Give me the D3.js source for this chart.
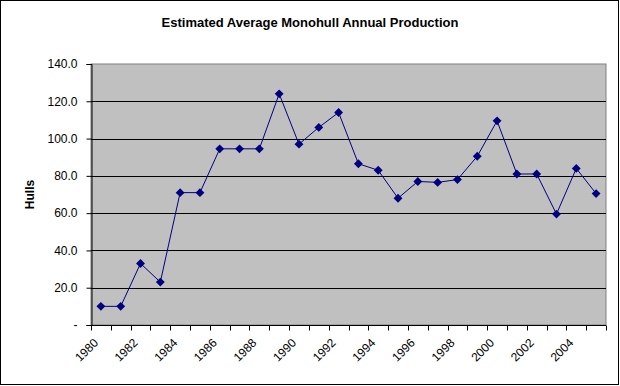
<!DOCTYPE html>
<html>
<head>
<meta charset="utf-8">
<script src="https://cdn.jsdelivr.net/npm/d3@7"></script>
<style>
  body { margin: 0; background: #fff; }
  svg { display: block; font-family: Arial, "Liberation Sans", sans-serif; }
</style>
</head>
<body>
<div id="chart"></div>
<script>
let years = d3.range(1980, 2006)
let hulls = [10, 10, 33, 23, 71, 71, 94.5, 94.5, 94.5, 124, 97, 106, 114,
  86.5, 83, 68, 77, 76.5, 78, 90.5, 109.5, 81, 81, 59.5, 84, 70.5]
let yTicks = [0, 20, 40, 60, 80, 100, 120, 140]
let xLabels = years.filter(function (d) { return d % 2 === 0 && d < 2005 })

let width = 620
let height = 386
let plot = { left: 91, right: 606, top: 64, bottom: 325 }

let svg = d3.select('#chart')
  .append('svg')
  .attr('width', width)
  .attr('height', height)

// outer chart border
svg.append('rect')
  .attr('x', 0.5).attr('y', 0.5)
  .attr('width', width - 2).attr('height', height - 2)
  .style('fill', '#fff')
  .style('stroke', '#000')

let x = d3.scaleBand()
  .domain(years)
  .range([plot.left, plot.right])

let y = d3.scaleLinear()
  .domain([0, 140])
  .range([plot.bottom, plot.top])

// plot area
svg.append('rect')
  .attr('x', plot.left).attr('y', plot.top)
  .attr('width', plot.right - plot.left).attr('height', plot.bottom - plot.top)
  .style('fill', '#c0c0c0')
  .style('stroke', '#808080')

// gridlines
svg.append('g')
  .selectAll('line')
  .data(yTicks.filter(function (d) { return d > 0 && d < 140 }))
  .enter()
  .append('line')
  .attr('x1', plot.left).attr('x2', plot.right)
  .attr('y1', function (d) { return Math.round(y(d)) + 0.5 })
  .attr('y2', function (d) { return Math.round(y(d)) + 0.5 })
  .style('stroke', '#000')

// y axis
let yAxis = svg.append('g')
  .attr('transform', 'translate(' + (plot.left + 0.5) + ',0)')
  .call(d3.axisLeft(y)
    .tickValues(yTicks)
    .tickSize(5)
    .tickPadding(9)
    .tickFormat(function (d) { return d === 0 ? '-    ' : d3.format('.1f')(d) }))
yAxis.selectAll('text')
  .style('font-size', '12px')
  .style('fill', '#000')
yAxis.selectAll('line, path').style('stroke', '#000')

// x axis
let xAxisG = svg.append('g')
  .attr('transform', 'translate(0,' + (plot.bottom + 0.5) + ')')
xAxisG.append('line')
  .attr('x1', plot.left).attr('x2', plot.right)
  .style('stroke', '#000')
xAxisG.selectAll('.tick')
  .data(years.concat([2006]))
  .enter()
  .append('line')
  .attr('class', 'tick')
  .attr('x1', function (d) { return Math.round(d === 2006 ? plot.right : x(d)) + 0.5 })
  .attr('x2', function (d) { return Math.round(d === 2006 ? plot.right : x(d)) + 0.5 })
  .attr('y1', 0).attr('y2', 5)
  .style('stroke', '#000')

xAxisG.selectAll('.label')
  .data(xLabels)
  .enter()
  .append('text')
  .attr('class', 'label')
  .attr('transform', function (d) {
    return 'translate(' + (x(d) + x.bandwidth() / 2 - 5) + ',15) rotate(-45)'
  })
  .attr('text-anchor', 'end')
  .attr('dy', '0.35em')
  .style('font-size', '12px')
  .text(function (d) { return d })

// line
let line = d3.line()
  .x(function (d, i) { return x(years[i]) + x.bandwidth() / 2 })
  .y(function (d) { return y(d) })

svg.append('path')
  .datum(hulls)
  .attr('d', line)
  .style('fill', 'none')
  .style('stroke', '#000080')
  .style('stroke-width', 1)

svg.append('g')
  .selectAll('path')
  .data(hulls)
  .enter()
  .append('path')
  .attr('d', d3.symbol().type(d3.symbolDiamond2).size(50))
  .attr('transform', function (d, i) {
    return 'translate(' + (x(years[i]) + x.bandwidth() / 2) + ',' + y(d) + ')'
  })
  .style('fill', '#000080')

// title
svg.append('text')
  .attr('x', 310).attr('y', 27)
  .attr('text-anchor', 'middle')
  .style('font-size', '13px')
  .style('font-weight', 'bold')
  .text('Estimated Average Monohull Annual Production')

// y axis title
svg.append('text')
  .attr('transform', 'translate(34,' + ((plot.top + plot.bottom) / 2) + ') rotate(-90)')
  .attr('text-anchor', 'middle')
  .style('font-size', '12px')
  .style('font-weight', 'bold')
  .text('Hulls')
</script>
</body>
</html>
